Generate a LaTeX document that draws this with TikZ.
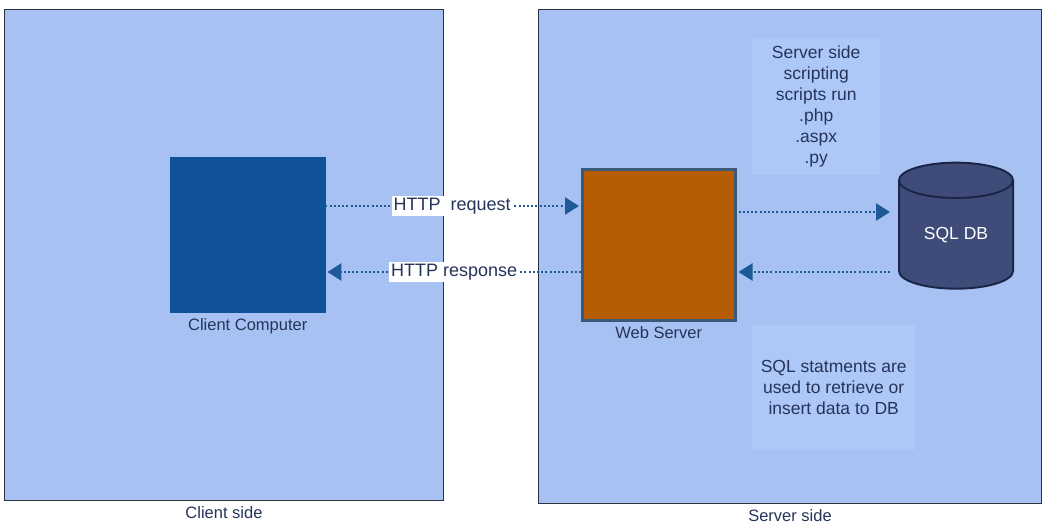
\documentclass[tikz,border=0pt]{standalone}
\usepackage{fontspec}
\setmainfont{Liberation Sans}
\usetikzlibrary{arrows.meta,shapes.geometric}
\definecolor{panel}{HTML}{A7C2F2}
\definecolor{panelline}{HTML}{2A3140}
\definecolor{clientblue}{HTML}{10529A}
\definecolor{serverorange}{HTML}{B65C02}
\definecolor{serverline}{HTML}{3A5877}
\definecolor{dbfill}{HTML}{3F4C79}
\definecolor{dbline}{HTML}{1C2648}
\definecolor{arrowblue}{HTML}{1D5A97}
\definecolor{txt}{HTML}{26345A}
\definecolor{notefill}{HTML}{ADC8F6}
\begin{document}
\begin{tikzpicture}[x=1pt,y=-1pt,
  panelbox/.style={draw=panelline,fill=panel,line width=1pt},
  lbl/.style={text=txt,font=\fontsize{16.5}{18}\selectfont},
  note/.style={text=txt,fill=notefill,align=center,font=\fontsize{17.5}{21}\selectfont},
  flow/.style={draw=arrowblue,line width=2.6pt,dash pattern=on 2pt off 2.2pt,-{Triangle[length=14pt,width=17pt,fill=arrowblue]}},
  arrlbl/.style={fill=white,text=txt,font=\fontsize{18}{20}\selectfont,inner sep=2pt}]
\useasboundingbox (0,0) rectangle (1042,525);
\fill[white] (0,0) rectangle (1042,525);
% panels
\node[panelbox,minimum width=439pt,minimum height=491pt,anchor=north west] (clientpanel) at (4,9) {};
\node[panelbox,minimum width=503pt,minimum height=494pt,anchor=north west] (serverpanel) at (538,9) {};
\node[lbl,anchor=north] (clientside) at ([yshift=-2pt]clientpanel.south) {Client side};
\node[lbl,anchor=north] (serverside) at ([yshift=-2pt]serverpanel.south) {Server side};
% notes
\node[note,minimum width=128pt,minimum height=137pt,anchor=north west,inner sep=0pt] (script) at (752,38)
  {Server side\\scripting\\scripts run\\.php\\.aspx\\.py};
\node[note,minimum width=163pt,minimum height=125pt,anchor=north west,inner sep=0pt] (sqlnote) at (752,325)
  {SQL statments are\\used to retrieve or\\insert data to DB};
% main nodes
\node[fill=clientblue,draw=clientblue,minimum width=155pt,minimum height=155pt,anchor=north west,inner sep=0pt] (client) at (170,157) {};
\node[lbl,anchor=north] (clientlbl) at ([yshift=-3pt]client.south) {Client Computer};
\node[fill=serverorange,draw=serverline,line width=2.5pt,minimum width=153pt,minimum height=151pt,anchor=north west,inner sep=0pt] (web) at (581,168) {};
\node[lbl,anchor=north] (weblbl) at ([yshift=-2pt]web.south) {Web Server};
\node[cylinder,shape border rotate=90,aspect=0.55,draw=dbline,line width=2pt,fill=dbfill,minimum width=114pt,minimum height=126pt,inner sep=0pt,text=white,font=\fontsize{17.5}{20}\selectfont] (db) at (956,235) {SQL DB};
% connectors
\coordinate (reqL) at (client.east |- 0,206);
\coordinate (reqR) at (web.west |- 0,206);
\coordinate (resL) at (client.east |- 0,272);
\coordinate (resR) at (web.west |- 0,272);
\draw[flow] (reqL) -- node[arrlbl,pos=0.5] (reqlbl) {HTTP\ \ request} ([xshift=-2pt]reqR);
\draw[flow] (resR) -- node[arrlbl,pos=0.5] (reslbl) {HTTP response} ([xshift=2pt]resL);
\coordinate (dbreqL) at ([xshift=2pt]web.east |- 0,212);
\coordinate (dbreqR) at (890,212);
\coordinate (dbresL) at ([xshift=2pt]web.east |- 0,272);
\coordinate (dbresR) at (890,272);
\draw[flow] (dbreqL) -- (dbreqR);
\draw[flow] (dbresR) -- (dbresL);
\end{tikzpicture}
\end{document}
